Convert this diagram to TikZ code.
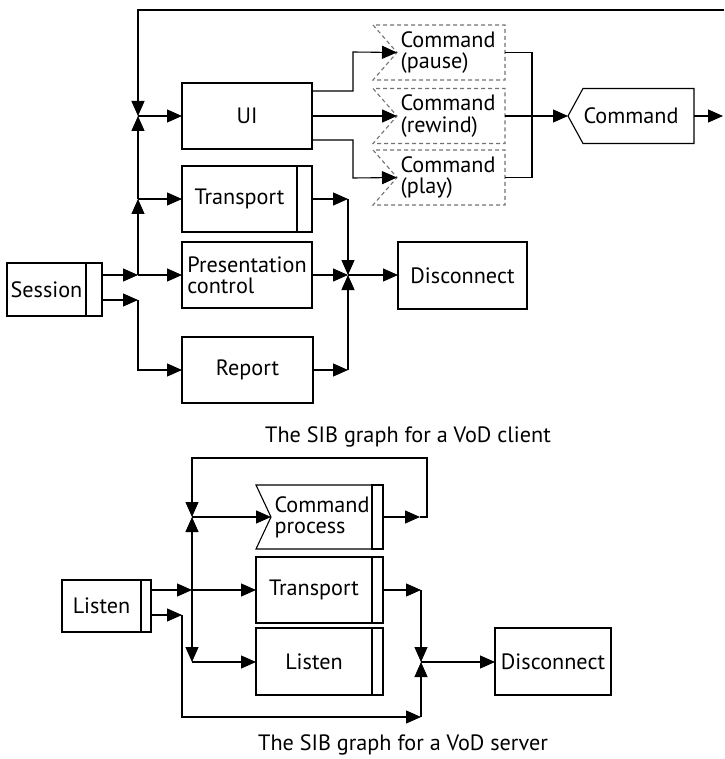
\documentclass[tikz,border=0pt]{standalone}
\usepackage{fontspec}
\setmainfont{PT Sans}
\usetikzlibrary{arrows.meta,calc}
\begin{document}
\begin{tikzpicture}[x=0.5pt,y=-0.5pt,
  font=\fontsize{11.1}{10.6}\selectfont,
  line width=0.55pt,
  arr/.style={-{Triangle[length=7.5pt,width=6.5pt]}},
  sib/.style={draw, rectangle, inner sep=0pt, outer sep=0pt, align=center},
  sibbar/.style={draw, rectangle, inner sep=0pt, outer sep=0pt, anchor=west},
  ghost/.style={rectangle, inner sep=0pt, outer sep=0pt},
  dotbox/.style={draw=black!55, dash pattern=on 2pt off 1.5pt},
  lbl/.style={anchor=west, align=left, inner xsep=1.5pt, inner ysep=0pt}
]
\useasboundingbox (0,0) rectangle (724,759);

% ---------------- client graph ----------------
\node[sib, minimum width=39.5pt, minimum height=26.5pt] (sess) at (46.5,289.5) {Session};
\node[sibbar, minimum width=8pt, minimum height=26.5pt] (sessb) at (sess.east) {};

\node[sib, minimum width=65pt, minimum height=33pt] (ui) at (247,116) {UI};
\node[sib, minimum width=57.5pt, minimum height=33pt] (trC) at (239.5,199) {Transport};
\node[sibbar, minimum width=7.5pt, minimum height=33pt] (trCb) at (trC.east) {};
\node[sib, minimum width=65pt, minimum height=33pt, align=left] (pc) at (247,275) {Presentation\\control};
\node[sib, minimum width=65.5pt, minimum height=33pt] (rep) at (247.5,370) {Report};
\node[sib, minimum width=64.5pt, minimum height=33.5pt] (disC) at (462.5,275.5) {Disconnect};

% command signal boxes
\node[ghost, minimum width=66pt, minimum height=27.5pt] (cp) at (439,52.5) {};
\node[ghost, minimum width=66pt, minimum height=27.5pt] (cr) at (439,116) {};
\node[ghost, minimum width=66pt, minimum height=27.5pt] (cpl) at (439,177.5) {};
\coordinate (cpn) at ($(cp.west)+(24,0)$);
\coordinate (crn) at ($(cr.west)+(24,0)$);
\coordinate (cpln) at ($(cpl.west)+(24,0)$);
\draw[dotbox] (cp.north west) -- (cpn) -- (cp.south west) -- (cp.south east) -- (cp.north east) -- cycle;
\draw[dotbox] (cr.north west) -- (crn) -- (cr.south west) -- (cr.south east) -- (cr.north east) -- cycle;
\draw[dotbox] (cpl.north west) -- (cpln) -- (cpl.south west) -- (cpl.south east) -- (cpl.north east) -- cycle;
\node[lbl] (cpt) at (cpn) {Command\\(pause)};
\node[lbl] (crt) at (crn) {Command\\(rewind)};
\node[lbl] (cplt) at (cpln) {Command\\(play)};

\node[ghost, minimum width=63pt, minimum height=27.5pt] (cmd) at (631,116) {Command};
\draw (cmd.west) -- ($(cmd.north west)+(15,0)$) -- (cmd.north east) -- (cmd.south east) -- ($(cmd.south west)+(15,0)$) -- cycle;

% junctions and bends
\coordinate (J1) at (138,116);
\coordinate (J2) at (138,199);
\coordinate (J3) at (138,275);
\coordinate (J4) at (138,300);
\coordinate (J5) at (348,275);
\coordinate (c1) at (348,199);
\coordinate (c2) at (348,370);
\coordinate (T0) at (724,10);
\coordinate (T1) at (138,10);
\coordinate (U1) at (353,52);
\coordinate (U2) at (353,178);
\coordinate (B3) at (532,116);
\coordinate (E1) at (723,116);

\draw[arr] (T0) -- (T1) -- (J1);
\draw[arr] (J1) -- (ui.west);
\draw[arr] (J2) -- (J1);
\draw[arr] (J2) -- (trC.west);
\draw[arr] (J3) -- (J2);
\draw[arr] (J3) -- (pc.west);
\draw[arr] (sessb.east |- J3) -- (J3);
\draw[arr] (sessb.east |- J4) -- (J4);
\draw[arr] (J4) -- (J4 |- rep.west) -- (rep.west);

\draw[arr] ($(ui.north east)+(0,8)$) -| (U1) -- (cpn);
\draw[arr] (ui.east) -- (crn);
\draw[arr] ($(ui.south east)+(0,-9)$) -| (U2) -- (cpln);
\draw (cp.east) -- (cp.east -| B3) -- (cpl.east -| B3) -- (cpl.east);
\draw[arr] (cr.east) -- (cmd.west);
\draw[arr] (cmd.east) -- (E1);

\draw[arr] (trCb.east) -- (c1);
\draw[arr] (c1) -- (J5);
\draw[arr] (pc.east |- J5) -- (J5);
\draw[arr] (rep.east) -- (c2);
\draw[arr] (c2) -- (J5);
\draw[arr] (J5) -- (J5 -| disC.west);

\node (cap1) at (408,437) {The SIB graph for a VoD client};

% ---------------- server graph ----------------
\node[sib, minimum width=39.5pt, minimum height=26pt] (lisL) at (101.5,606) {Listen};
\node[sibbar, minimum width=5pt, minimum height=26pt] (lisLb) at (lisL.east) {};

\node[ghost, minimum width=58pt, minimum height=32pt] (cpr) at (314,517) {};
\coordinate (cprn) at ($(cpr.west)+(15,0)$);
\draw (cpr.north west) -- (cprn) -- (cpr.south west) -- (cpr.south east) -- (cpr.north east) -- cycle;
\node[sibbar, minimum width=5.5pt, minimum height=32pt] (cprb) at (cpr.east) {};
\node[lbl] (cprt) at (cprn) {Command\\process};

\node[sib, minimum width=58pt, minimum height=33pt] (trS) at (314,590) {Transport};
\node[sibbar, minimum width=5.5pt, minimum height=33pt] (trSb) at (trS.east) {};
\node[sib, minimum width=58pt, minimum height=33.5pt] (lisR) at (314,661.5) {Listen};
\node[sibbar, minimum width=5.5pt, minimum height=33.5pt] (lisRb) at (lisR.east) {};
\node[sib, minimum width=58pt, minimum height=33.5pt] (disS) at (553,661.5) {Disconnect};

\coordinate (JB1) at (192,517);
\coordinate (JB2) at (192,590);
\coordinate (JB3) at (192,662);
\coordinate (JB4) at (421,662);
\coordinate (L1) at (182,615);
\coordinate (L2) at (182,717);
\coordinate (d1) at (421,717);
\coordinate (d2) at (421,590);
\coordinate (k1) at (420,517);
\coordinate (k2) at (427,517);
\coordinate (k3) at (427,458);
\coordinate (k4) at (192,458);

\draw[arr] (cprb.east) -- (k1);
\draw[arr] (k1) -- (k2) -- (k3) -- (k4) -- (JB1);
\draw[arr] (JB1) -- (cprn);
\draw[arr] (lisLb.east |- JB2) -- (JB2);
\draw[arr] (JB2) -- (trS.west);
\draw[arr] (JB2) -- (JB1);
\draw[arr] (JB2) -- (JB3);
\draw[arr] (JB3) -- (JB3 -| lisR.west);
\draw[arr] (lisLb.east |- L1) -- (L1);
\draw[arr] (L1) -- (L2) -- (d1);
\draw[arr] (d1) -- (JB4);
\draw[arr] (trSb.east) -- (d2);
\draw[arr] (d2) -- (JB4);
\draw[arr] (JB4) -- (JB4 -| disS.west);

\node (cap2) at (403,745) {The SIB graph for a VoD server};
\end{tikzpicture}
\end{document}
